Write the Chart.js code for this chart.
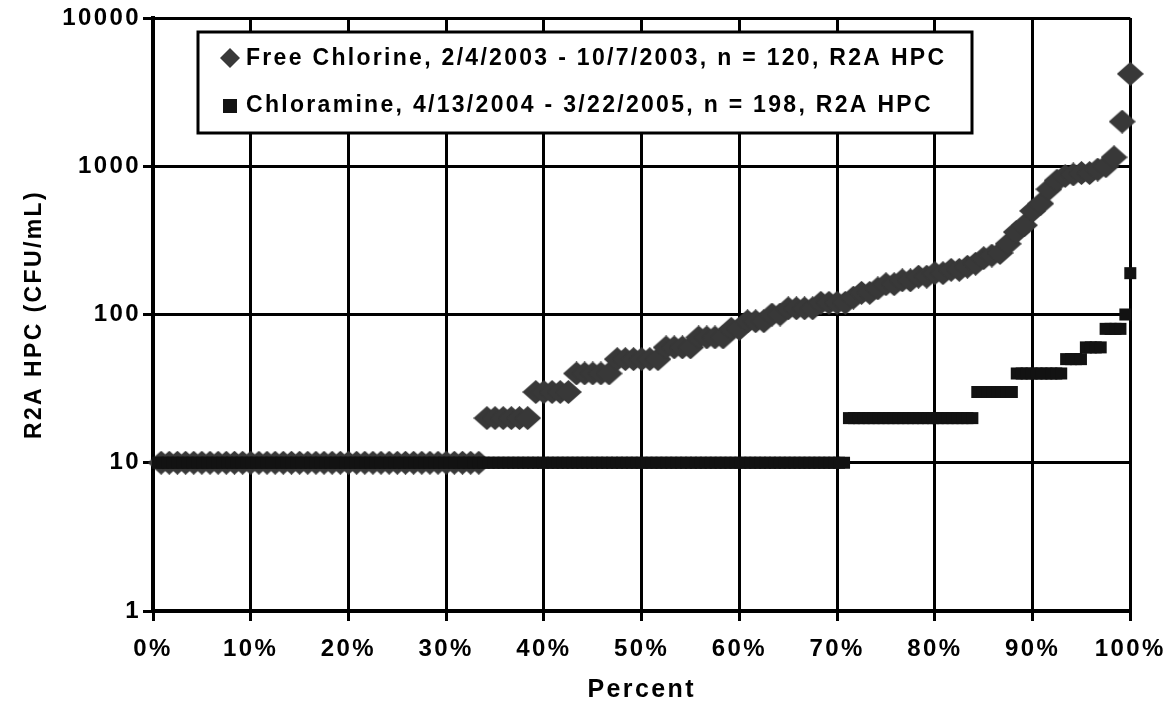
<!DOCTYPE html>
<html><head><meta charset="utf-8">
<script src="https://cdn.jsdelivr.net/npm/chart.js@4/dist/chart.umd.min.js"></script>
<style>html,body{margin:0;padding:0;background:#fff;}#wrap{width:1175px;height:708px;}</style>
</head><body><div id="wrap"><canvas id="c" width="1175" height="708"></canvas></div>
<script>
const freeChlorineLabel = 'Free Chlorine, 2/4/2003 - 10/7/2003, n = 120, R2A HPC';
const chloramineLabel = 'Chloramine, 4/13/2004 - 3/22/2005, n = 198, R2A HPC';

// sorted R2A HPC values (CFU/mL), plotted at rank / n
const freeChlorineHPC = [
  10,10,10,10,10,10,10,10,10,10,10,10,10,10,10,10,10,10,10,10,
  10,10,10,10,10,10,10,10,10,10,10,10,10,10,10,10,10,10,10,10,
  20,20,20,20,20,20,30,30,30,30,30,40,40,40,40,40,50,50,50,50,
  50,50,60,60,60,60,70,70,70,70,80,80,90,90,90,100,100,110,110,110,
  110,120,120,120,120,130,140,140,150,160,160,170,170,180,180,190,190,200,200,210,
  220,240,250,260,300,360,400,500,560,700,800,860,880,900,900,950,1000,1150,2000,4200
];
const chloramineHPC = [
  10,10,10,10,10,10,10,10,10,10,10,10,10,10,10,10,10,10,10,10,
  10,10,10,10,10,10,10,10,10,10,10,10,10,10,10,10,10,10,10,10,
  10,10,10,10,10,10,10,10,10,10,10,10,10,10,10,10,10,10,10,10,
  10,10,10,10,10,10,10,10,10,10,10,10,10,10,10,10,10,10,10,10,
  10,10,10,10,10,10,10,10,10,10,10,10,10,10,10,10,10,10,10,10,
  10,10,10,10,10,10,10,10,10,10,10,10,10,10,10,10,10,10,10,10,
  10,10,10,10,10,10,10,10,10,10,10,10,10,10,10,10,10,10,10,10,
  20,20,20,20,20,20,20,20,20,20,20,20,20,20,20,20,20,20,20,20,
  20,20,20,20,20,20,30,30,30,30,30,30,30,30,40,40,40,40,40,40,
  40,40,40,40,50,50,50,50,60,60,60,60,80,80,80,80,100,190
];
const xTickValues = [0,10,20,30,40,50,60,70,80,90,100];
const xTickLabels = ['0%','10%','20%','30%','40%','50%','60%','70%','80%','90%','100%'];
const yTickValues = [1,10,100,1000,10000];
const yTickLabels = ['1','10','100','1000','10000'];
const xTitle = 'Percent';
const yTitle = 'R2A HPC (CFU/mL)';

const FONT = "'Liberation Sans', Arial, sans-serif";
const SPACING = '2.4px';
const freeColor = '#383838';
const chlorColor = '#121212';

function toPoints(vals){
  const n = vals.length;
  return vals.map((v,i)=>({x:(i+1)/n*100, y:v}));
}

function diamond(w,h,color){
  const c = document.createElement('canvas');
  c.width = w; c.height = h;
  const g = c.getContext('2d');
  g.fillStyle = color;
  g.beginPath();
  g.moveTo(w/2,0); g.lineTo(w,h/2); g.lineTo(w/2,h); g.lineTo(0,h/2); g.closePath();
  g.fill();
  return c;
}
const diamondImg = diamond(27,24,freeColor);

const spacingPlugin = {
  id:'spacing',
  beforeDraw(chart){ chart.ctx.letterSpacing = SPACING; }
};

const legendPlugin = {
  id:'customLegend',
  afterDraw(chart){
    const ctx = chart.ctx;
    ctx.save();
    ctx.letterSpacing = '2.3px';
    const L=198, T=32, R=972, B=133;
    ctx.fillStyle='#fff';
    ctx.fillRect(L,T,R-L,B-T);
    ctx.strokeStyle='#000'; ctx.lineWidth=3;
    ctx.strokeRect(L,T,R-L,B-T);
    ctx.fillStyle=freeColor;
    ctx.beginPath();
    ctx.moveTo(230,48); ctx.lineTo(240,58); ctx.lineTo(230,68); ctx.lineTo(220,58); ctx.closePath();
    ctx.fill();
    ctx.fillStyle=chlorColor;
    ctx.fillRect(223,99,14,14);
    ctx.fillStyle='#000';
    ctx.font = 'bold 23px ' + FONT;
    ctx.textAlign='left'; ctx.textBaseline='middle';
    ctx.fillText(freeChlorineLabel, 246, 59);
    ctx.fillText(chloramineLabel, 246, 106);
    ctx.restore();
  }
};

const chart = new Chart(document.getElementById('c'), {
  type:'scatter',
  data:{
    datasets:[
      {label:freeChlorineLabel, data:toPoints(freeChlorineHPC), pointStyle:diamondImg,
       backgroundColor:freeColor, borderWidth:0, order:2, clip:false},
      {label:chloramineLabel, data:toPoints(chloramineHPC), pointStyle:'rect',
       pointRadius:8.5, backgroundColor:chlorColor, borderColor:chlorColor, borderWidth:0, order:1, clip:false}
    ]
  },
  options:{
    responsive:false, animation:false, devicePixelRatio:1,
    layout:{padding:{left:0, top:18, right:43, bottom:0}},
    plugins:{legend:{display:false}, tooltip:{enabled:false}},
    scales:{
      x:{
        type:'linear', min:0, max:100, position:'bottom',
        afterBuildTicks(s){ s.ticks = xTickValues.map(v=>({value:v})); },
        afterFit(s){ s.height = 97; },
        ticks:{callback:(v,i)=>xTickLabels[i], color:'#000', font:{family:FONT, size:24, weight:'bold'}, padding:14, maxRotation:0, autoSkip:false},
        grid:{color:'#000', lineWidth:3, tickLength:10, tickColor:'#000', tickWidth:3, drawTicks:true},
        border:{display:true, color:'#000', width:4},
        title:{display:true, text:xTitle, color:'#000', font:{family:FONT, size:25, weight:'bold'}, padding:{top:0,bottom:3}}
      },
      y:{
        type:'logarithmic', min:1, max:10000,
        afterBuildTicks(s){ s.ticks = yTickValues.map(v=>({value:v})); },
        afterFit(s){ s.width = 153; },
        ticks:{callback:(v,i)=>yTickLabels[i], color:'#000', font:{family:FONT, size:24, weight:'bold'}, padding:2, autoSkip:false},
        grid:{color:'#000', lineWidth:3, tickLength:10, tickColor:'#000', tickWidth:3, drawTicks:true},
        border:{display:true, color:'#000', width:4},
        title:{display:true, text:yTitle, color:'#000', font:{family:FONT, size:23, weight:'bold'}, padding:{top:21,bottom:0}}
      }
    }
  },
  plugins:[spacingPlugin, legendPlugin]
});
</script></body></html>
